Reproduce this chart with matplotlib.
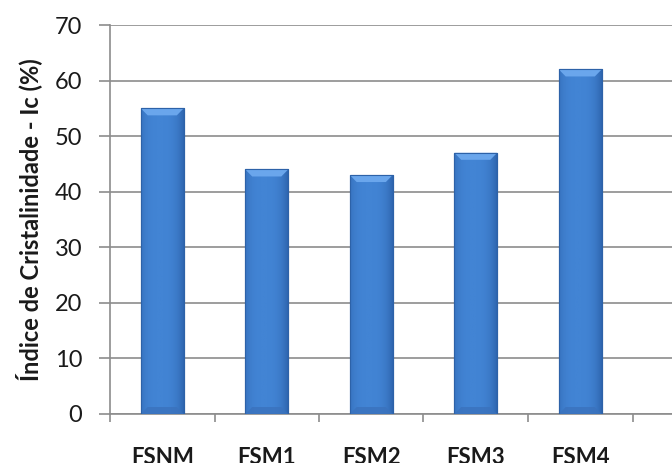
import matplotlib
matplotlib.use("Agg")
import matplotlib.pyplot as plt
import numpy as np
from matplotlib.colors import LinearSegmentedColormap
from matplotlib.patches import Polygon

categories = ["FSNM", "FSM1", "FSM2", "FSM3", "FSM4"]
values = [55, 44, 43, 47, 62]
yticks = [0, 10, 20, 30, 40, 50, 60, 70]

plt.rcParams['font.family'] = ['Lato', 'DejaVu Sans']

fig = plt.figure(figsize=(6.72, 4.63), dpi=100)
ax = fig.add_axes([110/672, (463-414)/463, 1 - 110/672, (414-25)/463])

x = np.arange(len(categories))
bars = ax.bar(x, values, width=0.41, color='#3e7fd0', edgecolor='#2d62a8',
              linewidth=0.8, zorder=3)

# subtle horizontal gradient inside bars
g = np.linspace(0, 1, 64)
shade = 1 - np.clip(np.abs(g - 0.45) / 0.55, 0, 1) ** 3
cmap = LinearSegmentedColormap.from_list('b', ['#2f66b0', '#4284d4'])
yper_px = 70 / (414 - 25)
for b in bars:
    bx, bw, bh = b.get_x(), b.get_width(), b.get_height()
    im = ax.imshow(shade[np.newaxis, :], cmap=cmap, vmin=0, vmax=1,
                   extent=[bx, bx + bw, 0, bh], aspect='auto', zorder=3.5,
                   interpolation='bilinear')
    im.set_clip_path(b)
    bev = 7 * yper_px
    inset = bw * 0.16
    top = Polygon([[bx, bh], [bx + bw, bh], [bx + bw - inset, bh - bev],
                   [bx + inset, bh - bev]], closed=True,
                  facecolor='#6aa6ec', edgecolor='none', zorder=4)
    ax.add_patch(top)
    bot = Polygon([[bx, 0], [bx + bw, 0], [bx + bw - inset, bev],
                   [bx + inset, bev]], closed=True,
                  facecolor='#3a72bd', edgecolor='none', zorder=4, alpha=0.8)
    ax.add_patch(bot)
    ax.add_patch(plt.Rectangle((bx, 0), bw, bh, fill=False,
                               edgecolor='#2d62a8', linewidth=0.8, zorder=4.5))

ax.set_ylim(0, 70)
ax.set_xlim(-0.5, (672 - 110) / 104.5 - 0.5)
ax.set_yticks(yticks)
ax.set_yticklabels([str(v) for v in yticks], fontsize=17, color='#1a1a1a')
ax.grid(axis='y', color='#8c8c8c', linewidth=1.2, zorder=0)
ax.set_axisbelow(True)

ax.set_xticks(np.arange(len(categories) + 1) - 0.5, minor=False)
ax.set_xticklabels([''] * (len(categories) + 1))
ax.set_xticks(x, minor=True)
ax.set_xticklabels(categories, minor=True, fontsize=16, fontweight='bold', color='#1a1a1a')
ax.tick_params(axis='x', which='minor', length=0, pad=24)
ax.tick_params(axis='x', which='major', length=6, width=1.2, color='#8c8c8c', direction='out')
ax.tick_params(axis='y', length=8, width=1.2, color='#8c8c8c', pad=12, direction='out')

for s in ['top', 'right']:
    ax.spines[s].set_visible(False)
for s in ['left', 'bottom']:
    ax.spines[s].set_color('#8c8c8c')
    ax.spines[s].set_linewidth(1.2)

fig.text(29/672, 1 - 220/463, "Índice de Cristalinidade - Ic (%)", rotation=90,
         ha='center', va='center', fontsize=17, fontweight='bold', color='#1a1a1a')

fig.savefig("out.png", dpi=100)
